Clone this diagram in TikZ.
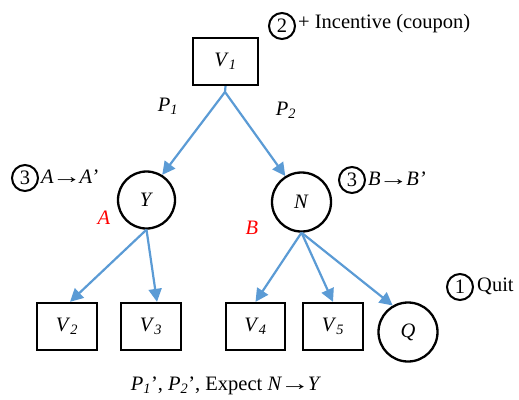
\documentclass[tikz,border=0pt]{standalone}
\usepackage{fontspec}
\usepackage{graphicx}
\setmainfont{Liberation Serif}
\usetikzlibrary{arrows.meta}
\definecolor{arrowblue}{RGB}{91,155,213}
\newcommand{\vsub}[2]{\textit{#1}\textsubscript{\textit{#2}}}
\newcommand{\longarr}{\mbox{\kern-2pt\scalebox{1.45}[1]{→}\kern-2pt}}
\begin{document}
\begin{tikzpicture}[x=1pt,y=-1pt,
  font=\fontsize{20.5}{24}\selectfont,
  boxnode/.style={draw=black,line width=2.3pt,minimum width=60pt,minimum height=47pt,inner sep=0pt},
  statenode/.style={draw=black,line width=2.3pt,circle,minimum size=57pt,inner sep=0pt},
  numnode/.style={draw=black,line width=2pt,circle,minimum size=26pt,inner sep=0pt},
  conn/.style={draw=arrowblue,line width=2.2pt,-{Triangle[length=13pt,width=13pt]}},
  redlabel/.style={text=red,font=\fontsize{20.5}{24}\selectfont\itshape}]
\useasboundingbox (0,0) rectangle (519,399);
% main nodes
\node[boxnode,minimum width=65pt] (v1) at (225.5,61.5) {\vsub{V}{1}};
\coordinate (split) at (225,92);
\node[statenode] (y) at (146.5,200) {\textit{Y}};
\node[statenode,minimum size=59pt] (n) at (301.5,202) {\textit{N}};
\node[boxnode] (v2) at (67,326.5) {\vsub{V}{2}};
\node[boxnode] (v3) at (151,326.5) {\vsub{V}{3}};
\node[boxnode,minimum width=59pt] (v4) at (255.5,326.5) {\vsub{V}{4}};
\node[boxnode] (v5) at (333,326.5) {\vsub{V}{5}};
\node[statenode,minimum size=59pt] (q) at (408,332) {\textit{Q}};
% connectors
\draw[arrowblue,line width=2.2pt] (v1.south) -- (split);
\draw[conn] (split) -- (y.58);
\draw[conn] (split) -- (n.122);
\draw[conn] (y.south) -- ([xshift=3pt]v2.north);
\draw[conn] (y.south) -- ([xshift=6pt]v3.north);
\draw[conn] (n.south) -- (v4.north);
\draw[conn] (n.south) -- (v5.north);
\draw[conn] (n.south) -- (q.120);
% edge labels
\node (p1) at (168,106) {\vsub{P}{1}};
\node (p2) at (286,110) {\vsub{P}{2}};
% annotations
\node[numnode] (c2) at (282,26) {2};
\node[anchor=west,inner sep=0pt] (t2) at (298,24) {+ Incentive (coupon)};
\node[numnode] (c3a) at (25,178) {3};
\node[anchor=west,inner sep=0pt] (t3a) at (41,177) {\textit{A}\longarr\textit{A’}};
\node[numnode] (c3b) at (352,180) {3};
\node[anchor=west,inner sep=0pt] (t3b) at (368,179) {\textit{B}\longarr\textit{B’}};
\node[numnode] (c1) at (460,287) {1};
\node[anchor=west,inner sep=0pt] (t1) at (477,286) {Quit};
\node[redlabel] (la) at (104,218) {A};
\node[redlabel] (lb) at (252,228) {B};
\node (bottom) at (226,386) {\vsub{P}{1}’, \vsub{P}{2}’, Expect \textit{N}\longarr\textit{Y}};
\end{tikzpicture}
\end{document}
